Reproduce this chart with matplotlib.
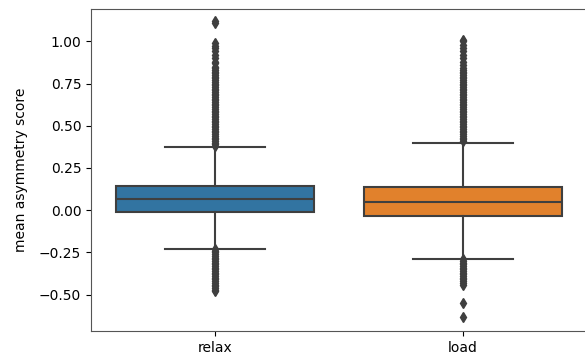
import matplotlib
matplotlib.use("Agg")
import matplotlib.pyplot as plt

# Summary statistics per condition
categories = ["relax", "load"]
medians = [0.065, 0.047]
q1s = [-0.011, -0.034]
q3s = [0.143, 0.139]
whisker_lo = [-0.228, -0.289]
whisker_hi = [0.374, 0.400]

# Outlying observations per condition
relax_fliers = [0.38, 0.39, 0.40, 0.41, 0.42, 0.43, 0.44, 0.45, 0.46, 0.47, 0.48,
                0.49, 0.50, 0.51, 0.52, 0.53, 0.54, 0.55, 0.56, 0.57, 0.58, 0.59,
                0.60, 0.61, 0.62, 0.63, 0.64, 0.65, 0.66, 0.67, 0.68, 0.69, 0.70,
                0.71, 0.72, 0.73, 0.74, 0.75, 0.76, 0.77, 0.78, 0.79, 0.80, 0.81,
                0.82, 0.83, 0.84, 0.85, 0.87, 0.88, 0.90, 0.92, 0.94, 0.96, 0.97,
                0.99, 1.11, 1.12,
                -0.23, -0.24, -0.25, -0.26, -0.27, -0.28, -0.29, -0.30, -0.31,
                -0.32, -0.33, -0.34, -0.35, -0.36, -0.37, -0.38, -0.39, -0.40,
                -0.41, -0.42, -0.43, -0.44, -0.45, -0.46, -0.47, -0.48]
load_fliers = [0.41, 0.42, 0.43, 0.44, 0.45, 0.46, 0.47, 0.48, 0.49, 0.50, 0.51,
               0.52, 0.53, 0.54, 0.55, 0.56, 0.57, 0.58, 0.59, 0.60, 0.61, 0.62,
               0.63, 0.64, 0.65, 0.66, 0.67, 0.68, 0.69, 0.70, 0.71, 0.72, 0.73,
               0.74, 0.75, 0.76, 0.77, 0.78, 0.79, 0.80, 0.81, 0.82, 0.83, 0.84,
               0.86, 0.88, 0.90, 0.92, 0.94, 0.96, 0.98, 1.00, 1.01,
               -0.29, -0.30, -0.31, -0.32, -0.33, -0.34, -0.35, -0.36, -0.37,
               -0.38, -0.39, -0.40, -0.41, -0.42, -0.43, -0.44, -0.55, -0.63]
fliers = [relax_fliers, load_fliers]

colors = ["#3274a1", "#e1812c"]
line_gray = "#3f3f3f"

stats = []
for i, name in enumerate(categories):
    stats.append(dict(label=name, med=medians[i], q1=q1s[i], q3=q3s[i],
                      whislo=whisker_lo[i], whishi=whisker_hi[i],
                      fliers=fliers[i]))

fig = plt.figure(figsize=(5.85, 3.58), dpi=100)
ax = fig.add_axes([91 / 585, 1 - 331 / 358, (587 - 91) / 585, (331 - 9) / 358])

bp = ax.bxp(stats, positions=[0, 1], widths=0.8, patch_artist=True,
            boxprops=dict(edgecolor=line_gray, linewidth=1.5),
            medianprops=dict(color=line_gray, linewidth=1.5),
            whiskerprops=dict(color=line_gray, linewidth=1.5),
            capprops=dict(color=line_gray, linewidth=1.5),
            flierprops=dict(marker="d", markersize=5, markerfacecolor=line_gray,
                            markeredgecolor=line_gray, linestyle="none"),
            capwidths=0.4)
for patch, c in zip(bp["boxes"], colors):
    patch.set_facecolor(c)

ax.set_xlim(-0.5, 1.5)
ax.set_ylim(-0.715, 1.191)
ax.set_xticks([0, 1])
ax.set_xticklabels(categories)
ax.set_yticks([-0.5, -0.25, 0.0, 0.25, 0.5, 0.75, 1.0])
ax.set_ylabel("mean asymmetry score", labelpad=8)
for s in ax.spines.values():
    s.set_color("#555555")

fig.savefig("out.png", dpi=100)
